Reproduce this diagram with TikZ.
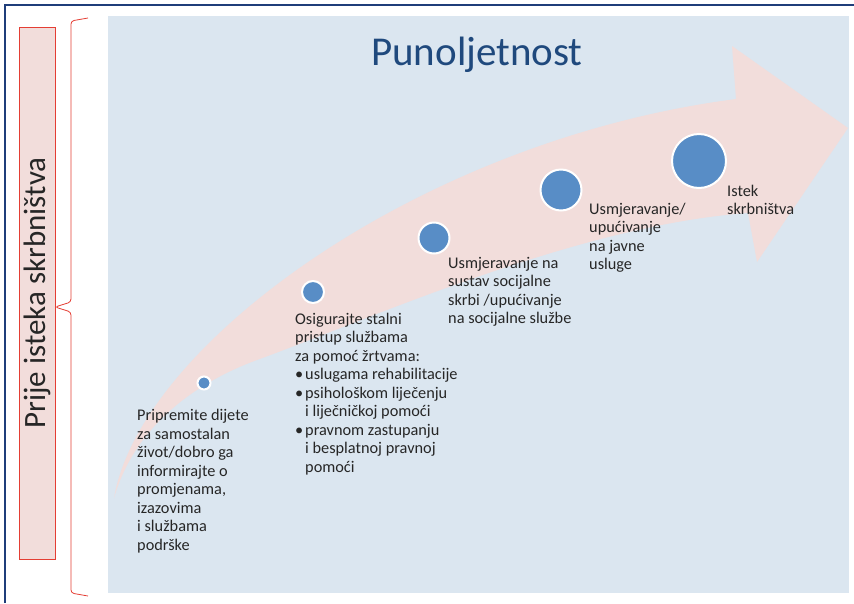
\documentclass[tikz,border=0pt]{standalone}
\usepackage{fontspec}
\setmainfont{Carlito}
\usepackage{tikz}

\definecolor{panelblue}{RGB}{219,230,240}
\definecolor{arrowpink}{RGB}{242,221,219}
\definecolor{dotblue}{RGB}{88,141,198}
\definecolor{titleblue}{RGB}{31,73,125}
\definecolor{framered}{RGB}{228,62,52}
\definecolor{frameblue}{RGB}{31,61,122}
\definecolor{textgray}{RGB}{38,38,38}

\newcommand{\itemdot}{\makebox[10pt][l]{•}}
\newcommand{\itemgap}{\hspace*{10pt}}

\begin{document}
\begin{tikzpicture}[x=1pt,y=-1pt,
  dot/.style={shape=circle,fill=dotblue,draw=white,line width=2pt,inner sep=0pt},
  stage/.style={anchor=base west,align=left,inner sep=0pt,text=textgray,
    font=\fontsize{16.3}{18.5}\selectfont},
  headline/.style={anchor=base,font=\fontsize{41}{44}\selectfont}]
\useasboundingbox (0,0) rectangle (854,603);

% frame and panel
\draw[frameblue,line width=1.5pt] (5,603) -- (5,5) -- (854,5);
\fill[panelblue] (108,16) rectangle (849,593);

% big arrow
\fill[arrowpink] (114,498) .. controls (140,345) and (420,140) .. (736,99)
  -- (732,46) -- (848,128) -- (757,262) -- (748,213)
  .. controls (578,225) and (367,320) .. (257,360)
  .. controls (197,382) and (135,425) .. cycle;

% side label and bracket
\node[draw=framered,fill=arrowpink,rotate=90,minimum width=532pt,minimum height=36pt,
  inner sep=0pt,text=textgray,font=\fontsize{31}{34}\selectfont] (side) at (37,293) {Prije isteka skrbništva};
\draw[framered,line width=0.8pt,rounded corners=3pt] (88,18) -- (71,21) -- (71,302) -- (55,307)
  -- (71,312) -- (71,593) -- (88,596);

\node[headline,text=titleblue] (title) at (477,65) {Punoljetnost};

% stages
\node[dot,minimum size=13pt] (d1) at (204,383) {};
\node[dot,minimum size=22pt] (d2) at (313,292) {};
\node[dot,minimum size=31pt] (d3) at (434,238) {};
\node[dot,minimum size=41pt] (d4) at (561,190) {};
\node[dot,minimum size=54pt] (d5) at (699,161) {};

% base anchor = last line
\node[stage] (t1) at (137,550) {Pripremite dijete\\za samostalan\\život/dobro ga\\informirajte o\\promjenama,\\izazovima\\i službama\\podrške};
\node[stage] (t2) at (295,472) {Osigurajte stalni\\pristup službama\\za pomoć žrtvama:\\\itemdot uslugama rehabilitacije\\\itemdot psihološkom liječenju\\\itemgap i liječničkoj pomoći\\\itemdot pravnom zastupanju\\\itemgap i besplatnoj pravnoj\\\itemgap pomoći};
\node[stage] (t3) at (448,323.5) {Usmjeravanje na\\sustav socijalne\\skrbi /upućivanje\\na socijalne službe};
\node[stage] (t4) at (589,269.5) {Usmjeravanje/\\upućivanje\\na javne\\usluge};
\node[stage] (t5) at (727,214.5) {Istek\\skrbništva};

\end{tikzpicture}
\end{document}
